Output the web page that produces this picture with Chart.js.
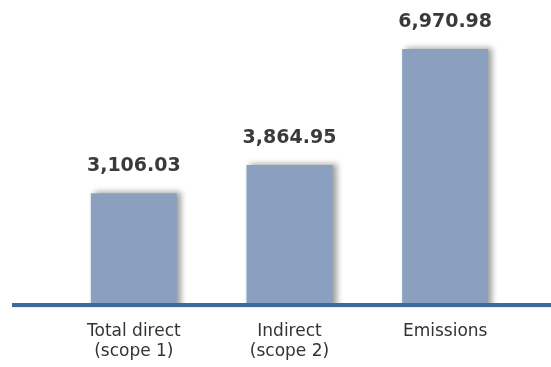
<!DOCTYPE html>
<html>
<head>
<meta charset="utf-8">
<script src="https://cdn.jsdelivr.net/npm/chart.js@4/dist/chart.umd.min.js"></script>
<style>
  html, body { margin: 0; padding: 0; background: #ffffff; }
  #wrap { width: 551px; height: 367px; position: relative; }
</style>
</head>
<body>
<div id="wrap"><canvas id="chart"></canvas></div>
<script>
// Emissions by scope
const categories = [["Total direct", "(scope 1)"], ["Indirect", "(scope 2)"], "Emissions"];
const emissions = [3106.03, 3864.95, 6970.98];

const barColor = "#8ba0bf";
const axisLineColor = "#3d6a98";
const valueColor = "#3a3a3a";
const labelColor = "#333333";

const fmt = new Intl.NumberFormat("en-US", { minimumFractionDigits: 2, maximumFractionDigits: 2 });

// Soft drop shadow to the right of each bar
const barShadow = {
  id: "barShadow",
  beforeDatasetsDraw(chart) {
    const ctx = chart.ctx;
    ctx.save();
    ctx.shadowColor = "rgba(0,0,0,0.38)";
    ctx.shadowBlur = 6;
    ctx.shadowOffsetX = 4;
    ctx.shadowOffsetY = -1;
  },
  afterDatasetsDraw(chart) {
    chart.ctx.restore();
  }
};

// Heavy baseline plus value labels above the bars
const baselineAndValues = {
  id: "baselineAndValues",
  afterDatasetsDraw(chart) {
    const ctx = chart.ctx;
    const area = chart.chartArea;
    ctx.save();
    ctx.fillStyle = axisLineColor;
    ctx.fillRect(12, area.bottom, chart.width - 12, 4);
    ctx.fillStyle = "rgba(61,106,152,0.12)";
    ctx.fillRect(12, area.bottom + 4, chart.width - 12, 1);

    ctx.font = "bold 19px 'DejaVu Sans'";
    ctx.fillStyle = valueColor;
    ctx.textAlign = "center";
    ctx.textBaseline = "alphabetic";
    const meta = chart.getDatasetMeta(0);
    meta.data.forEach((bar, i) => {
      ctx.fillText(fmt.format(emissions[i]), bar.x, bar.y - 22);
    });
    ctx.restore();
  }
};

new Chart(document.getElementById("chart"), {
  type: "bar",
  data: {
    labels: categories,
    datasets: [{
      data: emissions,
      backgroundColor: barColor,
      borderWidth: 0,
      barPercentage: 1,
      categoryPercentage: 0.553
    }]
  },
  options: {
    responsive: true,
    maintainAspectRatio: false,
    animation: false,
    events: [],
    layout: { padding: { left: 56, right: 28, top: 0, bottom: 0 } },
    plugins: {
      legend: { display: false },
      tooltip: { enabled: false }
    },
    scales: {
      x: {
        grid: { display: false, drawTicks: false },
        border: { display: false },
        afterFit(scale) { scale.height = 64; },
        ticks: {
          color: labelColor,
          padding: 18,
          maxRotation: 0,
          autoSkip: false,
          font: { family: "'DejaVu Sans'", size: 17, lineHeight: 1.2 }
        }
      },
      y: {
        display: false,
        min: 170,
        max: 8280
      }
    }
  },
  plugins: [barShadow, baselineAndValues]
});
</script>
</body>
</html>
